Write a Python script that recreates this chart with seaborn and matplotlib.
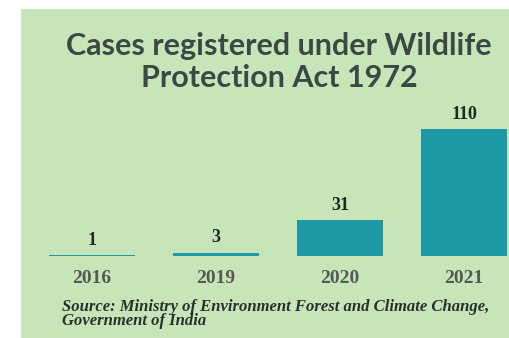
import matplotlib
matplotlib.use("Agg")
import matplotlib.pyplot as plt
import seaborn as sns
import pandas as pd
from matplotlib.patches import Rectangle

# ---- Data ----
years = ["2016", "2019", "2020", "2021"]
cases = [1, 3, 31, 110]

title = "Cases registered under Wildlife\nProtection Act 1972"
source = "Source: Ministry of Environment Forest and Climate Change,\nGovernment of India"

bg_green = "#c7e5b9"
bar_teal = "#1d99a5"
title_col = "#3b4843"

sns.set_theme(style="white")
plt.rcParams["font.family"] = ["Liberation Serif", "DejaVu Serif"]

df = pd.DataFrame({"year": years, "cases": cases})

fig = plt.figure(figsize=(5.09, 3.38), dpi=100)
fig.patch.set_facecolor("white")

# green panel behind everything
fig.patches.append(Rectangle((21 / 509, 0), 1 - 21 / 509, 1 - 9 / 338,
                             transform=fig.transFigure, facecolor=bg_green,
                             edgecolor="none", zorder=-5))

ax = fig.add_axes([21 / 509, (338 - 256) / 338, 488 / 509, 247 / 338])
ax.set_facecolor("none")
ax.set_zorder(2)

sns.barplot(data=df, x="year", y="cases", color=bar_teal, width=0.70,
            saturation=1, linewidth=0, ax=ax)

ax.set_xlim(-0.5726, 3.363)
ax.set_ylim(0, 213.9)
ax.set_xlabel("")
ax.set_ylabel("")
ax.set_yticks([])
ax.tick_params(axis="x", length=0, pad=10)
for lab in ax.get_xticklabels():
    lab.set_fontsize(14)
    lab.set_fontweight("bold")
    lab.set_color("#555a55")
sns.despine(ax=ax, left=True, bottom=True)

for i, v in enumerate(cases):
    ax.annotate(str(v), (i, v), xytext=(0, 4.5), textcoords="offset points",
                ha="center", va="bottom", fontsize=13, fontweight="bold",
                color="#1f2a1f")

fig.text(279 / 509, 1 - 62 / 338, title, ha="center", va="center",
         fontsize=22, fontweight="bold", color=title_col,
         family=["Lato", "DejaVu Sans"], linespacing=1.2)

fig.text(62 / 509, 1 - 314 / 338, source, ha="left", va="center",
         fontsize=12, fontweight="bold", style="italic", color="#2b2f2b",
         linespacing=0.9)

fig.savefig("out.png", dpi=100)
